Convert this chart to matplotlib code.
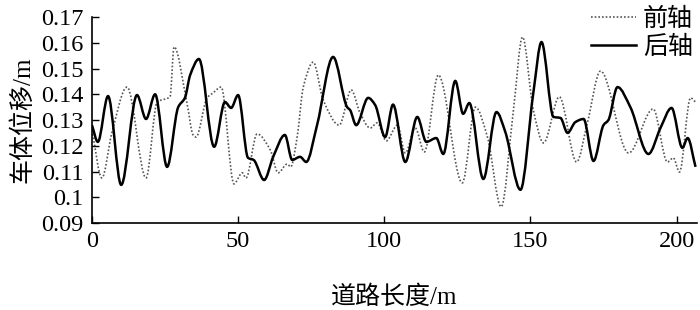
import matplotlib
matplotlib.use('Agg')
import matplotlib.pyplot as plt
from matplotlib.path import Path
from matplotlib.patches import PathPatch
from matplotlib.lines import Line2D

# 后轴 (rear axle), peaks / troughs / shoulders
rear_x = [0, 2, 5.5, 10, 15.4, 18.5, 21.6, 25.7, 29.5, 31.8, 33.6, 36.6, 41.8,
          45.5, 47.6, 50, 53.4, 55.3, 58.9, 62, 66, 68.5, 71.2, 73.3, 77, 82.5,
          87.3, 88.3, 90.4, 94.5, 96.9, 100.3, 103, 107.2, 111.3, 114.4, 117.8,
          120.2, 124.3, 127, 129.1, 133.9, 138.4, 141.4, 146.6, 151, 153.8,
          157.9, 160.3, 162.7, 165.4, 168.2, 171.6, 175, 176.7, 179.8, 184.2,
          190.4, 194.5, 198.3, 202, 203.8, 206.5]
rear_y = [0.128, 0.1215, 0.1393, 0.1048, 0.1397, 0.1304, 0.140, 0.1118, 0.135,
          0.1386, 0.1475, 0.1537, 0.1196, 0.137, 0.1347, 0.1397, 0.1153, 0.1145,
          0.1067, 0.1157, 0.1242, 0.1145, 0.1157, 0.1137, 0.128, 0.1545, 0.135,
          0.1339, 0.128, 0.1386, 0.1358, 0.1234, 0.136, 0.1137, 0.1312, 0.1215,
          0.123, 0.1168, 0.1452, 0.1324, 0.1366, 0.1071, 0.1331, 0.1254, 0.1029,
          0.1405, 0.1603, 0.1312, 0.1308, 0.125, 0.1292, 0.1304, 0.1141, 0.128,
          0.130, 0.1428, 0.135, 0.1168, 0.1269, 0.1347, 0.1192, 0.123, 0.1118]

# 前轴 (front axle)
front_x = [0, 3.4, 6.8, 12, 18.5, 22.3, 26.7, 28.1, 32.5, 34.6, 35.6, 39.4, 41.4,
           44.2, 48.6, 51.4, 52.7, 56.5, 61, 63.7, 66.8, 68, 70.2, 72.3, 75.7,
           79.1, 84.6, 88.7, 91.7, 95.2, 97.6, 100.7, 104.5, 107.2, 110.6, 113.7,
           118.5, 126.7, 131.2, 135.3, 140, 144.2, 147.3, 151, 154.5, 159.9,
           165.8, 169.5, 174, 183.6, 192, 196.9, 198.9, 201, 204.8, 206.5]
front_y = [0.126, 0.1075, 0.125, 0.1428, 0.1075, 0.137, 0.139, 0.1584, 0.1366,
           0.1242, 0.1234, 0.1386, 0.1405, 0.1428, 0.1052, 0.1095, 0.1075, 0.1246,
           0.1184, 0.1095, 0.1129, 0.1118, 0.1234, 0.1428, 0.1525, 0.1378, 0.128,
           0.1417, 0.1328, 0.1269, 0.1289, 0.1219, 0.128, 0.1172, 0.1269, 0.1176,
           0.1475, 0.1056, 0.135, 0.1234, 0.0963, 0.1339, 0.1622, 0.1339, 0.1211,
           0.139, 0.1137, 0.1289, 0.149, 0.1172, 0.1343, 0.1137, 0.1153, 0.1098,
           0.1386, 0.137]

x_ticks = [0, 50, 100, 150, 200]
y_ticks = [0.09, 0.1, 0.11, 0.12, 0.13, 0.14, 0.15, 0.16, 0.17]
y_labels = ['0.09', '0.1', '0.11', '0.12', '0.13', '0.14', '0.15', '0.16', '0.17']


def smooth_path(xs, ys):
    # smoothed line through the points (flat tangent at peaks, like a
    # "smooth line" chart), as cubic bezier segments
    n = len(xs)
    sec = [(ys[i + 1] - ys[i]) / (xs[i + 1] - xs[i]) for i in range(n - 1)]
    m = [sec[0]]
    for i in range(1, n - 1):
        if sec[i - 1] * sec[i] <= 0:
            m.append(0.0)
        else:
            m.append(2 / (1 / sec[i - 1] + 1 / sec[i]))
    m.append(sec[-1])
    verts = [(xs[0], ys[0])]
    codes = [Path.MOVETO]
    for i in range(n - 1):
        h = (xs[i + 1] - xs[i]) / 3
        verts += [(xs[i] + h, ys[i] + m[i] * h),
                  (xs[i + 1] - h, ys[i + 1] - m[i + 1] * h),
                  (xs[i + 1], ys[i + 1])]
        codes += [Path.CURVE4] * 3
    return Path(verts, codes)


plt.rcParams['font.family'] = ['Liberation Serif', 'Noto Sans CJK SC']

fig = plt.figure(figsize=(7, 3.1), dpi=100)
ax = fig.add_axes([0.1314, 0.2806, 0.8643, 0.6645])

front_style = dict(color='#555555', lw=1.2, linestyle=(0, (1, 1.2)))
rear_style = dict(color='black', lw=1.8, linestyle='-')

ax.add_patch(PathPatch(smooth_path(front_x, front_y), fill=False,
                       edgecolor=front_style['color'], lw=front_style['lw'],
                       linestyle=front_style['linestyle']))
ax.add_patch(PathPatch(smooth_path(rear_x, rear_y), fill=False,
                       edgecolor='black', lw=rear_style['lw'], joinstyle='round'))

ax.set_xlim(0, 207)
ax.set_ylim(0.09, 0.17)
ax.set_xticks(x_ticks)
ax.set_yticks(y_ticks)
ax.set_yticklabels(y_labels)
ax.tick_params(direction='in', length=5, width=1, labelsize=17.5, pad=6)
for s in ['top', 'right']:
    ax.spines[s].set_visible(False)
for s in ['left', 'bottom']:
    ax.spines[s].set_linewidth(1.2)

ax.set_xlabel('道路长度/m', fontsize=18, labelpad=24)
ax.set_ylabel('车体位移/m', fontsize=18, labelpad=5)

handles = [Line2D([], [], **front_style), Line2D([], [], **rear_style)]
fig.legend(handles, ['前轴', '后轴'], loc='upper right', bbox_to_anchor=(1.008, 1.015),
           frameon=False, fontsize=18, handlelength=1.8, handletextpad=0.3,
           labelspacing=0.2, borderaxespad=0.1)

fig.savefig('out.png', dpi=100)
